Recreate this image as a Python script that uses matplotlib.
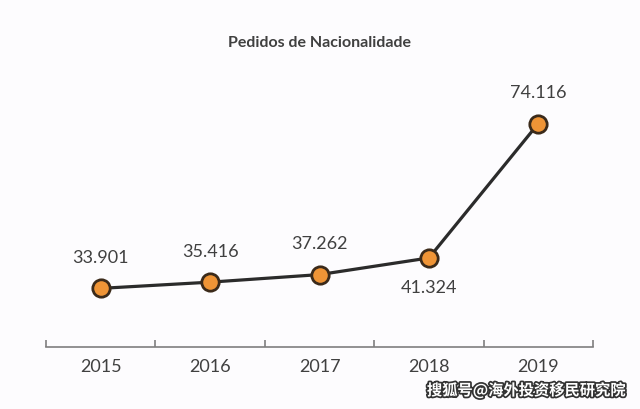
import matplotlib
matplotlib.use("Agg")
import matplotlib.pyplot as plt
import matplotlib.patheffects as pe

years = ["2015", "2016", "2017", "2018", "2019"]
values = [33.901, 35.416, 37.262, 41.324, 74.116]
labels = ["33.901", "35.416", "37.262", "41.324", "74.116"]
label_below = [False, False, False, True, False]

plt.rcParams['font.family'] = ['Lato', 'DejaVu Sans']

fig = plt.figure(figsize=(6.4, 4.09), dpi=100)
fig.patch.set_facecolor("#fdfcfe")
ax = fig.add_axes([0.0719, 0.1516, 0.8547, 0.6014])
ax.set_facecolor("#fdfcfe")

x = list(range(len(years)))
ax.plot(x, values, color="#2b2b2b", lw=2.3, zorder=2)
ax.plot(x, values, 'o', ms=12.5, mfc="#ef9436", mec="#3b2a1a", mew=2.0, zorder=3)

for xi, v, lab, below in zip(x, values, labels, label_below):
    off = -22 if below else 22
    ax.annotate(lab, (xi, v), xytext=(0, off), textcoords="offset points",
                ha="center", va="center", fontsize=13, color="#404040")

ax.set_xlim(-0.5, len(years) - 0.5)
ax.set_ylim(19.6, 79.6)
ax.set_yticks([])
ax.set_xticks([i - 0.5 for i in range(len(years) + 1)], minor=False)
ax.set_xticklabels([])
ax.tick_params(axis='x', direction='in', length=5, width=1.2, color="#7f7f7f")
ax.set_xticks(x, minor=True)
ax.set_xticklabels(years, minor=True)
ax.tick_params(axis='x', which='minor', length=0, labelsize=13, labelcolor="#404040", pad=9)

for s in ["top", "left", "right"]:
    ax.spines[s].set_visible(False)
ax.spines["bottom"].set_color("#7f7f7f")
ax.spines["bottom"].set_linewidth(1.2)

fig.text(0.5, 0.895, "Pedidos de Nacionalidade", ha="center", va="center",
         fontsize=11.5, fontweight="bold", color="#404040")

fig.text(0.977, 0.045, "搜狐号@海外投资移民研究院", ha="right", va="center",
         fontsize=11, fontweight="bold", color="white",
         family=['Noto Sans CJK SC', 'DejaVu Sans'],
         path_effects=[pe.withStroke(linewidth=2.5, foreground="#333333")])

fig.savefig("out.png", dpi=100, facecolor=fig.get_facecolor())
